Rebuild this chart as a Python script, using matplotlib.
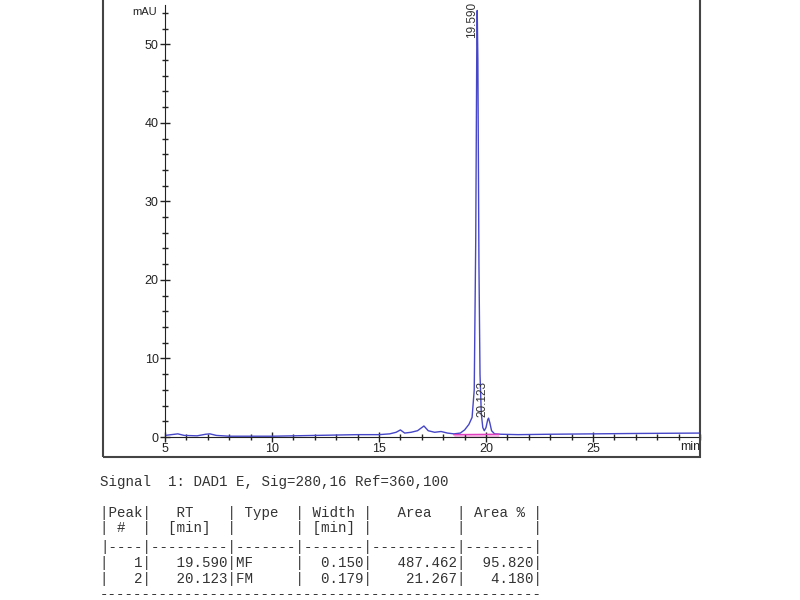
import numpy as np
import matplotlib.pyplot as plt
from matplotlib.patches import Rectangle
from matplotlib.ticker import MultipleLocator

# chromatogram (min, mAU)
rt = [5.0, 5.3, 5.6, 5.9, 6.5, 6.9, 7.1, 7.4, 8.0, 9.0, 10.0, 11.0, 12.0, 13.0,
      14.0, 15.0, 15.5, 15.8, 16.0, 16.2, 16.5, 16.8, 17.1, 17.3, 17.6, 17.9,
      18.2, 18.5, 18.8, 19.0, 19.2, 19.35, 19.45, 19.52, 19.57, 19.59, 19.62,
      19.67, 19.72, 19.78, 19.85, 19.92, 20.0, 20.08, 20.12, 20.18, 20.26,
      20.4, 20.7, 21.5, 23.0, 25.0, 27.0, 30.0]
mau = [0.2, 0.3, 0.4, 0.2, 0.15, 0.35, 0.4, 0.2, 0.1, 0.1, 0.1, 0.15, 0.2, 0.25,
       0.3, 0.3, 0.4, 0.6, 0.9, 0.5, 0.6, 0.8, 1.4, 0.8, 0.6, 0.7,
       0.5, 0.4, 0.5, 0.9, 1.6, 2.5, 6.0, 25.0, 50.0, 54.3, 48.0,
       22.0, 8.0, 3.0, 1.2, 0.8, 1.2, 2.2, 2.4, 1.8, 0.8,
       0.4, 0.35, 0.3, 0.35, 0.4, 0.45, 0.5]

peak_rt = ["19.590", "20.123"]
base_rt = [18.5, 20.6]
base_mau = [0.3, 0.35]

signal = "Signal  1: DAD1 E, Sig=280,16 Ref=360,100"
table = [
    "|Peak|   RT    | Type  | Width |   Area   | Area % |",
    "| #  |  [min]  |       | [min] |          |        |",
    "|----|---------|-------|-------|----------|--------|",
    "|   1|   19.590|MF     |  0.150|   487.462|  95.820|",
    "|   2|   20.123|FM     |  0.179|    21.267|   4.180|",
]

plt.rcParams['font.family'] = ['Liberation Sans', 'DejaVu Sans']

fig = plt.figure(figsize=(8, 6), dpi=100)
ax = fig.add_axes([165 / 800, 1 - 437 / 600, 535 / 800, 432 / 600])

ax.plot(rt, mau, color='#4646c8', lw=1)
ax.plot(base_rt, base_mau, color='#e040c0', lw=1)
ax.fill_between(base_rt, [0, 0], base_mau, color='#f4b8e4', lw=0)

ax.text(19.36, 50.8, peak_rt[0], rotation=90, ha='center', va='bottom',
        fontsize=8.5, color='#333333')
ax.text(19.83, 2.6, peak_rt[1], rotation=90, ha='center', va='bottom',
        fontsize=8.5, color='#333333')

ax.set_xlim(5, 30)
ax.set_ylim(0, 55)
ax.xaxis.set_major_locator(MultipleLocator(5))
ax.xaxis.set_minor_locator(MultipleLocator(1))
ax.yaxis.set_major_locator(MultipleLocator(10))
ax.yaxis.set_minor_locator(MultipleLocator(2))
ax.set_xticks([5, 10, 15, 20, 25])
ax.set_yticks([0, 10, 20, 30, 40, 50])
ax.tick_params(which='both', direction='inout', color='#222222', width=1,
               labelsize=9, labelcolor='#222222', pad=1)
ax.tick_params(which='major', length=7)
ax.tick_params(which='minor', length=5)
for s in ['top', 'right']:
    ax.spines[s].set_visible(False)
for s in ['left', 'bottom']:
    ax.spines[s].set_color('#222222')
ax.text(1.0, -0.01, "min", transform=ax.transAxes, ha='right', va='top',
        fontsize=9, color='#222222')
ax.text(-0.015, 54.1, "mAU", transform=ax.get_yaxis_transform(), ha='right',
        va='center', fontsize=8, color='#222222')

# outer frame of the report
fig.patches.append(Rectangle((103 / 800, 1 - 457 / 600), 597 / 800, 457 / 600 + 0.01,
                             transform=fig.transFigure, fill=False,
                             edgecolor='#444444', lw=1.5))

fig.text(100 / 800, 1 - 482 / 600, signal, family='Liberation Mono',
         fontsize=10.2, color='#333333', va='center')
for i, line in enumerate(table):
    y = [513, 528, 547, 563, 579][i]
    fig.text(100 / 800, 1 - y / 600, line, family='Liberation Mono',
             fontsize=10.2, color='#333333', va='center')
fig.text(100 / 800, 1 - 594 / 600, "-" * 52, family='Liberation Mono',
         fontsize=10.2, color='#333333', va='center')

fig.savefig("out.png", dpi=100)
